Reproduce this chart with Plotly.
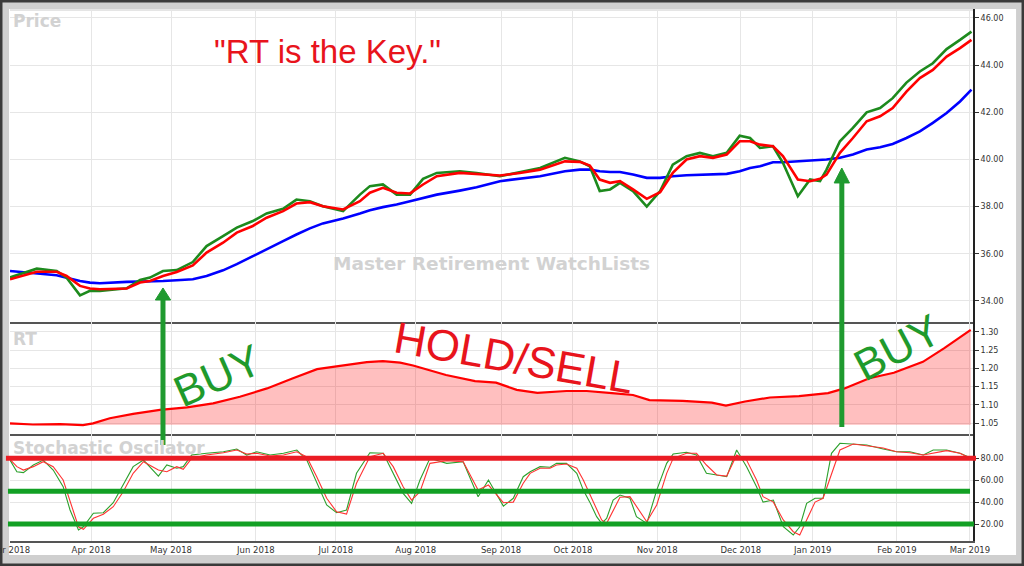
import plotly.graph_objects as go

# ---------------- data ----------------
month_labels = ["Mar 2018", "Apr 2018", "May 2018", "Jun 2018", "Jul 2018", "Aug 2018",
                "Sep 2018", "Oct 2018", "Nov 2018", "Dec 2018", "Jan 2019", "Feb 2019", "Mar 2019"]
month_pos = [0, 21.2, 42.1, 64.3, 85.2, 106.1, 128.4, 147.2, 169.2, 191.1, 209.9, 231.9, 251.0]

# trading-day index of each sample
price_x = [0, 7.0, 12.2, 14.8, 18.3, 20.9, 23.5, 30.5, 34.0, 36.6, 40.0, 43.6, 47.8, 51.4, 55.7,
           59.3, 63.5, 67.1, 71.4, 74.9, 78.4, 81.8, 87.1, 91.5, 94.1, 97.5, 101.1, 104.6, 108.0,
           111.6, 117.6, 122.0, 128.1, 133.3, 138.6, 145.1, 149.0, 151.6, 154.2, 156.9, 159.5,
           162.9, 166.5, 170.0, 173.3, 176.9, 180.4, 183.8, 187.4, 190.8, 193.5, 196.1, 199.5,
           202.1, 206.0, 209.2, 211.8, 213.5, 217.0, 220.4, 224.0, 227.5, 230.8, 234.4, 237.9,
           241.3, 244.9, 248.4, 251.4]
price_green = [35.00, 35.37, 35.27, 34.99, 34.24, 34.43, 34.43, 34.54, 34.89, 34.99, 35.27, 35.31,
               35.65, 36.33, 36.75, 37.11, 37.39, 37.71, 37.91, 38.30, 38.23, 38.02, 37.81, 38.51,
               38.87, 38.94, 38.51, 38.51, 39.18, 39.43, 39.50, 39.43, 39.29, 39.46, 39.64, 40.07,
               39.92, 39.71, 38.66, 38.73, 39.01, 38.66, 38.00, 38.66, 39.78, 40.14, 40.28, 40.14,
               40.28, 41.01, 40.91, 40.49, 40.56, 39.86, 38.44, 39.15, 39.08, 39.57, 40.77, 41.34,
               42.00, 42.18, 42.60, 43.26, 43.73, 44.08, 44.68, 45.07, 45.42]
price_red = [34.92, 35.24, 35.24, 35.06, 34.64, 34.53, 34.50, 34.53, 34.78, 34.85, 35.06, 35.23,
             35.51, 36.05, 36.47, 36.90, 37.18, 37.53, 37.81, 38.13, 38.19, 38.02, 37.88, 38.23,
             38.59, 38.80, 38.59, 38.56, 38.94, 39.29, 39.43, 39.39, 39.32, 39.43, 39.57, 39.92,
             39.90, 39.74, 39.15, 39.01, 39.08, 38.73, 38.33, 38.61, 39.43, 40.00, 40.14, 40.07,
             40.21, 40.77, 40.77, 40.63, 40.56, 40.14, 39.15, 39.08, 39.18, 39.36, 40.28, 40.91,
             41.62, 41.83, 42.18, 42.88, 43.45, 43.80, 44.36, 44.72, 45.07]
price_blue = [35.27, 35.16, 35.09, 34.99, 34.85, 34.78, 34.75, 34.81, 34.82, 34.85, 34.85, 34.88,
              34.92, 35.06, 35.30, 35.56, 35.91, 36.19, 36.54, 36.82, 37.08, 37.29, 37.50, 37.71,
              37.85, 37.98, 38.09, 38.23, 38.38, 38.51, 38.68, 38.82, 39.08, 39.18, 39.29, 39.50,
              39.57, 39.57, 39.50, 39.47, 39.47, 39.36, 39.22, 39.22, 39.29, 39.33, 39.36, 39.36,
              39.39, 39.50, 39.64, 39.71, 39.88, 39.88, 39.92, 39.97, 40.00, 40.00, 40.07, 40.21,
              40.42, 40.52, 40.66, 40.91, 41.19, 41.55, 41.97, 42.46, 42.96]

rt_x = [0, 6.0, 13.1, 19.1, 21.7, 26.1, 32.2, 39.2, 46.3, 53.1, 60.1, 67.2, 74.0, 80.3, 86.3,
        93.3, 97.5, 102.0, 105.4, 114.0, 121.6, 127.1, 132.5, 137.9, 145.5, 150.8, 157.4, 162.9,
        167.2, 175.9, 183.5, 187.2, 192.2, 198.7, 206.3, 213.9, 218.2, 224.7, 231.1, 238.7,
        244.2, 251.2]
rt_values = [1.049, 1.046, 1.047, 1.044, 1.049, 1.063, 1.075, 1.086, 1.093, 1.104, 1.122, 1.145,
             1.173, 1.198, 1.207, 1.217, 1.220, 1.216, 1.208, 1.182, 1.165, 1.161, 1.141, 1.133,
             1.138, 1.138, 1.132, 1.127, 1.113, 1.111, 1.106, 1.098, 1.109, 1.120, 1.124, 1.132,
             1.145, 1.173, 1.188, 1.218, 1.255, 1.306]
rt_floor = 1.045

stoch_x = [0, 1.8, 3.5, 6.1, 8.7, 11.3, 13.9, 15.7, 17.9, 19.2, 21.8, 24.4, 27.0, 29.6, 32.2,
           34.9, 38.8, 41.0, 43.6, 45.3, 47.5, 51.4, 55.8, 59.3, 61.9, 64.5, 68.0, 71.5, 75.0,
           77.6, 80.2, 82.8, 85.4, 88.0, 90.6, 94.1, 97.6, 100.2, 102.8, 105.0, 107.2, 109.8,
           114.2, 118.5, 122.4, 125.1, 129.0, 131.6, 134.2, 136.0, 138.6, 141.2, 142.9, 145.5,
           148.2, 149.9, 151.6, 153.4, 154.7, 156.0, 157.7, 159.5, 162.1, 163.8, 166.5, 169.1,
           171.7, 173.4, 176.9, 179.5, 182.1, 184.8, 187.4, 190.0, 192.6, 195.2, 196.9, 199.6,
           202.2, 204.8, 206.5, 208.3, 210.5, 212.6, 214.8, 217.0, 220.5, 224.0, 228.3, 231.8,
           235.3, 238.8, 241.4, 244.9, 248.4, 250.5]
stoch_k = [78.4, 67.8, 66.9, 73.9, 78.4, 69.3, 54.1, 32.8, 14.5, 17.5, 29.8, 30.3, 39.5, 55.6,
           72.4, 78.4, 63.8, 73.9, 70.9, 72.4, 83.0, 84.6, 86.0, 88.5, 83.0, 86.0, 83.0, 84.6,
           87.6, 78.4, 57.2, 37.4, 30.3, 32.8, 66.3, 85.1, 84.6, 66.3, 48.0, 38.9, 60.2, 80.0,
           75.4, 76.9, 44.9, 60.2, 36.4, 43.5, 63.2, 67.8, 72.4, 71.8, 75.4, 75.4, 66.3, 51.0,
           40.0, 26.7, 20.6, 25.2, 41.9, 46.5, 43.5, 26.7, 20.6, 51.0, 75.4, 83.9, 85.5, 83.0,
           66.3, 64.8, 63.2, 87.6, 72.4, 54.1, 40.0, 41.9, 17.5, 10.0, 17.5, 38.9, 43.5, 43.5,
           84.6, 93.7, 93.1, 92.2, 88.5, 86.0, 86.0, 83.0, 87.6, 87.6, 84.6, 81.5]
stoch_d = [79.0, 72.4, 69.3, 72.4, 76.9, 72.4, 60.2, 41.9, 17.5, 15.2, 25.2, 28.9, 35.8, 49.5,
           66.3, 76.9, 69.3, 67.8, 72.4, 70.0, 80.0, 83.0, 85.1, 87.6, 83.9, 84.6, 82.1, 83.0,
           86.0, 81.2, 63.2, 43.5, 31.2, 29.1, 57.2, 81.5, 84.6, 72.4, 54.1, 41.9, 49.5, 75.4,
           77.8, 76.9, 51.0, 55.6, 39.5, 40.0, 57.2, 66.3, 70.9, 70.9, 73.9, 74.8, 70.9, 60.2,
           47.5, 32.8, 23.7, 20.6, 32.8, 44.4, 45.0, 35.8, 22.1, 37.4, 66.3, 80.0, 84.6, 84.6,
           73.9, 64.8, 63.8, 83.0, 78.4, 60.2, 45.0, 40.0, 23.7, 13.0, 10.0, 23.7, 40.0, 43.5,
           66.3, 87.6, 93.1, 91.6, 89.5, 86.0, 85.1, 83.0, 84.6, 87.0, 84.6, 80.9]

price_ticks = [34, 36, 38, 40, 42, 44, 46]
rt_ticks = [1.05, 1.10, 1.15, 1.20, 1.25, 1.30]
stoch_ticks = [20, 40, 60, 80]
stoch_levels = [80, 50, 20]
stoch_level_colors = ["#ea1c24", "#12a024", "#12a024"]

# ---------------- styling ----------------
GRID = "#e6e6e6"
TICKFONT = dict(family="DejaVu Sans", size=8, color="#333333")
LABELFONT = dict(family="DejaVu Sans", size=17, color="#d2d2d2", weight="bold")
ANNFONT = "Liberation Sans, Arial, sans-serif"

fig = go.Figure()

# price panel
fig.add_trace(go.Scatter(x=price_x, y=price_blue, mode="lines",
                         line=dict(color="#0000ff", width=2.6), xaxis="x", yaxis="y"))
fig.add_trace(go.Scatter(x=price_x, y=price_green, mode="lines",
                         line=dict(color="#1d8a1d", width=2.6), xaxis="x", yaxis="y"))
fig.add_trace(go.Scatter(x=price_x, y=price_red, mode="lines",
                         line=dict(color="#ff0000", width=2.6), xaxis="x", yaxis="y"))

# RT panel (filled down to floor)
fig.add_trace(go.Scatter(x=rt_x, y=[rt_floor] * len(rt_x), mode="lines",
                         line=dict(width=0, color="rgba(0,0,0,0)"), xaxis="x2", yaxis="y2",
                         hoverinfo="skip"))
fig.add_trace(go.Scatter(x=rt_x, y=rt_values, mode="lines", fill="tonexty",
                         fillcolor="rgba(255,0,0,0.25)",
                         line=dict(color="#ff0000", width=2.2), xaxis="x2", yaxis="y2"))

# stochastic panel
fig.add_trace(go.Scatter(x=stoch_x, y=stoch_k, mode="lines",
                         line=dict(color="#2ca02c", width=1.1), xaxis="x3", yaxis="y3"))
fig.add_trace(go.Scatter(x=stoch_x, y=stoch_d, mode="lines",
                         line=dict(color="#ff3333", width=1.1), xaxis="x3", yaxis="y3"))

xrange = [0, 251.8]
common_x = dict(range=xrange, tickvals=month_pos, ticktext=month_labels, showgrid=True,
                gridcolor=GRID, gridwidth=1, zeroline=False, showline=True,
                linecolor="#555555", linewidth=2, ticks="", fixedrange=True,
                ticklabeloverflow="allow", automargin=False)
common_y = dict(side="right", showgrid=True, gridcolor=GRID, gridwidth=1, zeroline=False,
                showline=True, linecolor="#222222", linewidth=2, ticks="outside", ticklen=4,
                tickcolor="#333333", tickfont=TICKFONT, tickformat=".2f", fixedrange=True,
                automargin=False)

shapes = []
# outer frame: dark border, grey band, white inner
shapes.append(dict(type="rect", xref="paper", yref="paper", x0=-0.0104, x1=1.0530,
                   y0=-0.0470, y1=1.0169, fillcolor="#cfcfcf",
                   line=dict(color="#3a3a3a", width=5), layer="below"))
shapes.append(dict(type="rect", xref="paper", yref="paper", x0=-0.0010, x1=1.0447,
                   y0=-0.0263, y1=1.0, fillcolor="#ffffff", line=dict(width=0), layer="below"))
# top border line of plot
shapes.append(dict(type="line", xref="paper", yref="paper", x0=0, x1=1, y0=0.998, y1=0.998,
                   line=dict(color="#dcdcdc", width=1.5), layer="below"))
# stochastic thick level lines
level_x = [(-0.0042, 1.0031), (-0.0021, 0.9969), (-0.0021, 1.0010)]
for lv, col, (a, b) in zip(stoch_levels, stoch_level_colors, level_x):
    shapes.append(dict(type="line", xref="paper", yref="y3", x0=a, x1=b, y0=lv, y1=lv,
                       line=dict(color=col, width=5)))

# BUY arrows
ARROW = "#1f9a2f"
for ax, ybot, yneck, ytip in [(40.0, 0.1805, 0.4530, 0.4756), (217.5, 0.2143, 0.6730, 0.7011)]:
    shapes.append(dict(type="line", xref="x", yref="paper", x0=ax, x1=ax, y0=ybot, y1=yneck,
                       line=dict(color=ARROW, width=5)))
    shapes.append(dict(type="path", xref="x", yref="paper",
                       path=f"M {ax-2.0} {yneck} L {ax+2.0} {yneck} L {ax} {ytip} Z",
                       fillcolor=ARROW, line=dict(color=ARROW, width=1)))

annotations = [
    dict(text="Price", x=0.001, y=0.9774, xref="paper", yref="paper", xanchor="left",
         yanchor="middle", showarrow=False, font=LABELFONT),
    dict(text="RT", x=0.001, y=0.3797, xref="paper", yref="paper", xanchor="left",
         yanchor="middle", showarrow=False, font=LABELFONT),
    dict(text="Stochastic Oscilator", x=0.001, y=0.1745, xref="paper", yref="paper",
         xanchor="left", yanchor="middle", showarrow=False, font=LABELFONT),
    dict(text="Master Retirement WatchLists", x=0.5005, y=0.5207, xref="paper", yref="paper",
         xanchor="center", yanchor="middle", showarrow=False,
         font=dict(LABELFONT, size=18.5)),
    dict(text="\"RT is the Key.\"", x=0.3302, y=0.9192, xref="paper", yref="paper",
         xanchor="center", yanchor="middle", showarrow=False,
         font=dict(family=ANNFONT, size=33, color="#e8141c")),
    dict(text="BUY", x=0.2150, y=0.3120, xref="paper", yref="paper", xanchor="center",
         yanchor="middle", showarrow=False, textangle=-24,
         font=dict(family=ANNFONT, size=44, color="#1f9a2c")),
    dict(text="HOLD/SELL", x=0.5234, y=0.3440, xref="paper", yref="paper", xanchor="center",
         yanchor="middle", showarrow=False, textangle=10,
         font=dict(family=ANNFONT, size=44, color="#e8141c")),
    dict(text="BUY", x=0.9210, y=0.3640, xref="paper", yref="paper", xanchor="center",
         yanchor="middle", showarrow=False, textangle=-28,
         font=dict(family=ANNFONT, size=44, color="#1f9a2c")),
]

fig.update_layout(
    width=1024, height=566,
    margin=dict(l=10, r=51, t=9, b=25, pad=0, autoexpand=False),
    paper_bgcolor="#ffffff", plot_bgcolor="#ffffff",
    showlegend=False,
    xaxis=dict(common_x, anchor="y", showticklabels=False, domain=[0, 1]),
    xaxis2=dict(common_x, anchor="y2", showticklabels=False, domain=[0, 1]),
    xaxis3=dict(common_x, anchor="y3", showticklabels=True, domain=[0, 1],
                tickfont=dict(family="DejaVu Sans", size=8.5, color="#333333")),
    yaxis=dict(common_y, anchor="x", domain=[0.4117, 1.0], range=[33.11, 46.38],
               tickvals=price_ticks),
    yaxis2=dict(common_y, anchor="x2", domain=[0.2011, 0.4117], range=[1.0198, 1.3275],
                tickvals=rt_ticks),
    yaxis3=dict(common_y, anchor="x3", domain=[0, 0.2011], range=[4.5, 102.2],
                tickvals=stoch_ticks),
    shapes=shapes,
    annotations=annotations,
)

fig.write_html("out.html", config={"displayModeBar": False},
               post_script="document.body.style.margin='0';")
